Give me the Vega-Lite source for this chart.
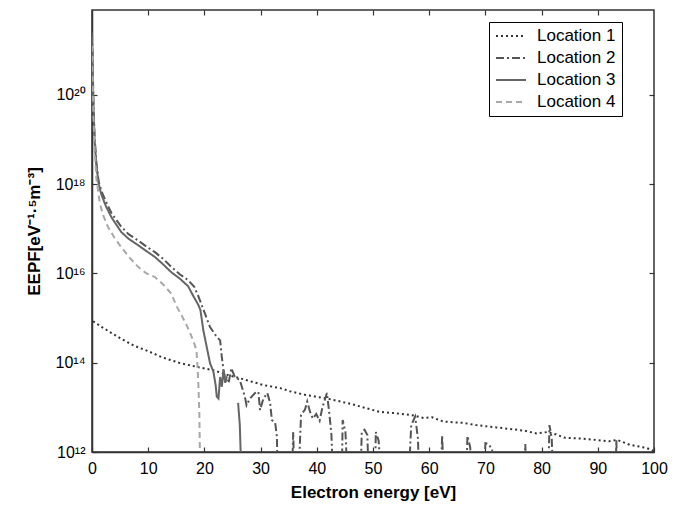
{
  "$schema": "https://vega.github.io/schema/vega-lite/v6.json",
  "width": 562,
  "height": 442,
  "autosize": {"type": "none"},
  "padding": {"left": 92, "top": 10, "right": 28, "bottom": 56},
  "background": "white",
  "data": {"values": [
    {"loc":"Location 1","E":0.2,"EEPF":8.5e14},
    {"loc":"Location 1","E":2,"EEPF":6.0e14},
    {"loc":"Location 1","E":5,"EEPF":3.55e14},
    {"loc":"Location 1","E":7.5,"EEPF":2.4e14},
    {"loc":"Location 1","E":10,"EEPF":1.82e14},
    {"loc":"Location 1","E":12.5,"EEPF":1.32e14},
    {"loc":"Location 1","E":15.7,"EEPF":9.8e13},
    {"loc":"Location 1","E":19,"EEPF":7.9e13},
    {"loc":"Location 1","E":21.6,"EEPF":6.8e13},
    {"loc":"Location 1","E":24,"EEPF":5.4e13},
    {"loc":"Location 1","E":26.3,"EEPF":4.5e13},
    {"loc":"Location 1","E":30.5,"EEPF":3.16e13},
    {"loc":"Location 1","E":33.5,"EEPF":2.7e13},
    {"loc":"Location 1","E":35.2,"EEPF":2.3e13},
    {"loc":"Location 1","E":38,"EEPF":1.9e13},
    {"loc":"Location 1","E":41.8,"EEPF":1.58e13},
    {"loc":"Location 1","E":46,"EEPF":1.2e13},
    {"loc":"Location 1","E":51.2,"EEPF":7.9e12},
    {"loc":"Location 1","E":54,"EEPF":7.4e12},
    {"loc":"Location 1","E":57.2,"EEPF":6.6e12},
    {"loc":"Location 1","E":59,"EEPF":5.75e12},
    {"loc":"Location 1","E":60.5,"EEPF":6.0e12},
    {"loc":"Location 1","E":62.5,"EEPF":4.8e12},
    {"loc":"Location 1","E":66,"EEPF":4.5e12},
    {"loc":"Location 1","E":68.4,"EEPF":4.0e12},
    {"loc":"Location 1","E":72,"EEPF":3.55e12},
    {"loc":"Location 1","E":77,"EEPF":3.0e12},
    {"loc":"Location 1","E":79.1,"EEPF":2.6e12},
    {"loc":"Location 1","E":81,"EEPF":2.8e12},
    {"loc":"Location 1","E":82.5,"EEPF":2.5e12},
    {"loc":"Location 1","E":84,"EEPF":2.1e12},
    {"loc":"Location 1","E":87,"EEPF":2.0e12},
    {"loc":"Location 1","E":89.8,"EEPF":1.86e12},
    {"loc":"Location 1","E":92,"EEPF":1.74e12},
    {"loc":"Location 1","E":93.5,"EEPF":1.86e12},
    {"loc":"Location 1","E":95.7,"EEPF":1.45e12},
    {"loc":"Location 1","E":98.7,"EEPF":1.23e12},
    {"loc":"Location 1","E":100,"EEPF":1.05e12},

    {"loc":"Location 2","E":0,"EEPF":2.5e21},
    {"loc":"Location 2","E":0.1,"EEPF":7.9e20},
    {"loc":"Location 2","E":0.25,"EEPF":7.9e19},
    {"loc":"Location 2","E":0.45,"EEPF":1.26e19},
    {"loc":"Location 2","E":0.8,"EEPF":2.8e18},
    {"loc":"Location 2","E":1.2,"EEPF":1.12e18},
    {"loc":"Location 2","E":1.66,"EEPF":7.1e17},
    {"loc":"Location 2","E":2.5,"EEPF":4.0e17},
    {"loc":"Location 2","E":3.5,"EEPF":2.2e17},
    {"loc":"Location 2","E":5.2,"EEPF":1.12e17},
    {"loc":"Location 2","E":6.5,"EEPF":7.6e16},
    {"loc":"Location 2","E":8.2,"EEPF":5.5e16},
    {"loc":"Location 2","E":9.7,"EEPF":4.0e16},
    {"loc":"Location 2","E":11.2,"EEPF":3.0e16},
    {"loc":"Location 2","E":12.7,"EEPF":2.1e16},
    {"loc":"Location 2","E":14.1,"EEPF":1.41e16},
    {"loc":"Location 2","E":15.66,"EEPF":9.5e15},
    {"loc":"Location 2","E":17.1,"EEPF":7.1e15},
    {"loc":"Location 2","E":18.2,"EEPF":5.0e15},
    {"loc":"Location 2","E":18.9,"EEPF":3.16e15},
    {"loc":"Location 2","E":19.8,"EEPF":1.58e15},
    {"loc":"Location 2","E":21.0,"EEPF":6.3e14},
    {"loc":"Location 2","E":22.2,"EEPF":3.8e14},
    {"loc":"Location 2","E":22.8,"EEPF":3.16e14},
    {"loc":"Location 2","E":23.1,"EEPF":1.35e14},
    {"loc":"Location 2","E":23.4,"EEPF":6.8e13},
    {"loc":"Location 2","E":23.7,"EEPF":4.5e13},
    {"loc":"Location 2","E":24.3,"EEPF":3.5e13},
    {"loc":"Location 2","E":24.8,"EEPF":7.6e13},
    {"loc":"Location 2","E":25.4,"EEPF":4.8e13},
    {"loc":"Location 2","E":26.3,"EEPF":4.1e13},
    {"loc":"Location 2","E":27.2,"EEPF":1.74e13},
    {"loc":"Location 2","E":27.5,"EEPF":1.12e13},
    {"loc":"Location 2","E":28.1,"EEPF":1.58e13},
    {"loc":"Location 2","E":29.0,"EEPF":2.1e13},
    {"loc":"Location 2","E":29.6,"EEPF":2.24e13},
    {"loc":"Location 2","E":29.9,"EEPF":8.7e12},
    {"loc":"Location 2","E":30.5,"EEPF":1.58e13},
    {"loc":"Location 2","E":31.2,"EEPF":2.1e13},
    {"loc":"Location 2","E":31.7,"EEPF":1.26e13},
    {"loc":"Location 2","E":32.0,"EEPF":5.2e12},
    {"loc":"Location 2","E":32.6,"EEPF":4.5e12},
    {"loc":"Location 2","E":32.9,"EEPF":2.2e12},
    {"loc":"Location 2","E":33.1,"EEPF":1e11},
    {"loc":"Location 2","E":35.5,"EEPF":1e11},
    {"loc":"Location 2","E":35.8,"EEPF":2.8e12},
    {"loc":"Location 2","E":36.1,"EEPF":1e11},
    {"loc":"Location 2","E":36.6,"EEPF":1e11},
    {"loc":"Location 2","E":37.2,"EEPF":6.8e12},
    {"loc":"Location 2","E":37.9,"EEPF":8.9e12},
    {"loc":"Location 2","E":38.3,"EEPF":1.35e13},
    {"loc":"Location 2","E":38.8,"EEPF":7.9e12},
    {"loc":"Location 2","E":39.3,"EEPF":5.6e12},
    {"loc":"Location 2","E":39.9,"EEPF":7.1e12},
    {"loc":"Location 2","E":40.5,"EEPF":5.0e12},
    {"loc":"Location 2","E":41.0,"EEPF":1.0e13},
    {"loc":"Location 2","E":41.8,"EEPF":2.1e13},
    {"loc":"Location 2","E":42.2,"EEPF":7.9e12},
    {"loc":"Location 2","E":42.6,"EEPF":2.5e12},
    {"loc":"Location 2","E":43.0,"EEPF":1e11},
    {"loc":"Location 2","E":44.4,"EEPF":1e11},
    {"loc":"Location 2","E":44.6,"EEPF":5.2e12},
    {"loc":"Location 2","E":45.1,"EEPF":2.8e12},
    {"loc":"Location 2","E":45.6,"EEPF":1e11},
    {"loc":"Location 2","E":47.7,"EEPF":1e11},
    {"loc":"Location 2","E":48.0,"EEPF":2.8e12},
    {"loc":"Location 2","E":48.5,"EEPF":3.16e12},
    {"loc":"Location 2","E":49.0,"EEPF":2.4e12},
    {"loc":"Location 2","E":49.3,"EEPF":1e11},
    {"loc":"Location 2","E":50.3,"EEPF":1e11},
    {"loc":"Location 2","E":50.5,"EEPF":2.8e12},
    {"loc":"Location 2","E":51.0,"EEPF":1.8e12},
    {"loc":"Location 2","E":51.7,"EEPF":1e11},
    {"loc":"Location 2","E":56.2,"EEPF":1e11},
    {"loc":"Location 2","E":56.8,"EEPF":4.0e12},
    {"loc":"Location 2","E":57.5,"EEPF":6.2e12},
    {"loc":"Location 2","E":58.0,"EEPF":2.0e12},
    {"loc":"Location 2","E":58.3,"EEPF":1e11},
    {"loc":"Location 2","E":62.0,"EEPF":1e11},
    {"loc":"Location 2","E":62.3,"EEPF":2.4e12},
    {"loc":"Location 2","E":62.7,"EEPF":1e11},
    {"loc":"Location 2","E":66.5,"EEPF":1e11},
    {"loc":"Location 2","E":66.8,"EEPF":2.3e12},
    {"loc":"Location 2","E":67.3,"EEPF":1.26e12},
    {"loc":"Location 2","E":67.8,"EEPF":1e11},
    {"loc":"Location 2","E":69.6,"EEPF":1e11},
    {"loc":"Location 2","E":70.0,"EEPF":1.58e12},
    {"loc":"Location 2","E":70.6,"EEPF":1.5e12},
    {"loc":"Location 2","E":71.2,"EEPF":1.12e12},
    {"loc":"Location 2","E":71.6,"EEPF":1e11},
    {"loc":"Location 2","E":76.9,"EEPF":1e11},
    {"loc":"Location 2","E":77.1,"EEPF":1.5e12},
    {"loc":"Location 2","E":77.4,"EEPF":1e11},
    {"loc":"Location 2","E":81.1,"EEPF":1e11},
    {"loc":"Location 2","E":81.4,"EEPF":4.0e12},
    {"loc":"Location 2","E":81.8,"EEPF":2.0e12},
    {"loc":"Location 2","E":82.2,"EEPF":1e11},
    {"loc":"Location 2","E":93.1,"EEPF":1e11},
    {"loc":"Location 2","E":93.3,"EEPF":1.86e12},
    {"loc":"Location 2","E":93.6,"EEPF":1e11},
    {"loc":"Location 2","E":100,"EEPF":1e11},

    {"loc":"Location 3","E":0,"EEPF":2.0e21},
    {"loc":"Location 3","E":0.1,"EEPF":5.0e20},
    {"loc":"Location 3","E":0.25,"EEPF":6.3e19},
    {"loc":"Location 3","E":0.45,"EEPF":1.0e19},
    {"loc":"Location 3","E":0.8,"EEPF":2.5e18},
    {"loc":"Location 3","E":1.2,"EEPF":1.0e18},
    {"loc":"Location 3","E":1.66,"EEPF":5.9e17},
    {"loc":"Location 3","E":2.5,"EEPF":3.16e17},
    {"loc":"Location 3","E":3.5,"EEPF":1.78e17},
    {"loc":"Location 3","E":5.2,"EEPF":8.5e16},
    {"loc":"Location 3","E":6.5,"EEPF":6.0e16},
    {"loc":"Location 3","E":8.2,"EEPF":4.3e16},
    {"loc":"Location 3","E":9.7,"EEPF":3.16e16},
    {"loc":"Location 3","E":11.2,"EEPF":2.34e16},
    {"loc":"Location 3","E":12.7,"EEPF":1.58e16},
    {"loc":"Location 3","E":14.1,"EEPF":1.07e16},
    {"loc":"Location 3","E":15.66,"EEPF":7.6e15},
    {"loc":"Location 3","E":17.1,"EEPF":5.2e15},
    {"loc":"Location 3","E":18.0,"EEPF":3.16e15},
    {"loc":"Location 3","E":18.9,"EEPF":2.0e15},
    {"loc":"Location 3","E":19.3,"EEPF":1.51e15},
    {"loc":"Location 3","E":19.8,"EEPF":5.4e14},
    {"loc":"Location 3","E":20.4,"EEPF":2.3e14},
    {"loc":"Location 3","E":21.0,"EEPF":9.8e13},
    {"loc":"Location 3","E":21.6,"EEPF":6.3e13},
    {"loc":"Location 3","E":22.0,"EEPF":3.16e13},
    {"loc":"Location 3","E":22.2,"EEPF":1.74e13},
    {"loc":"Location 3","E":22.5,"EEPF":1.58e13},
    {"loc":"Location 3","E":22.8,"EEPF":4.8e13},
    {"loc":"Location 3","E":23.1,"EEPF":2.9e13},
    {"loc":"Location 3","E":23.4,"EEPF":6.8e13},
    {"loc":"Location 3","E":23.7,"EEPF":3.55e13},
    {"loc":"Location 3","E":24.0,"EEPF":5.0e13},
    {"loc":"Location 3","E":24.3,"EEPF":null},
    {"loc":"Location 3","E":26.0,"EEPF":1.26e13},
    {"loc":"Location 3","E":26.3,"EEPF":4.0e12},
    {"loc":"Location 3","E":26.7,"EEPF":1e11},

    {"loc":"Location 4","E":0,"EEPF":1.26e21},
    {"loc":"Location 4","E":0.1,"EEPF":3.16e20},
    {"loc":"Location 4","E":0.25,"EEPF":3.16e19},
    {"loc":"Location 4","E":0.45,"EEPF":6.3e18},
    {"loc":"Location 4","E":0.8,"EEPF":1.26e18},
    {"loc":"Location 4","E":1.4,"EEPF":3.7e17},
    {"loc":"Location 4","E":2.0,"EEPF":2.0e17},
    {"loc":"Location 4","E":2.85,"EEPF":1.1e17},
    {"loc":"Location 4","E":4.0,"EEPF":6.3e16},
    {"loc":"Location 4","E":5.2,"EEPF":3.9e16},
    {"loc":"Location 4","E":6.5,"EEPF":2.4e16},
    {"loc":"Location 4","E":8.2,"EEPF":1.41e16},
    {"loc":"Location 4","E":9.7,"EEPF":1.0e16},
    {"loc":"Location 4","E":11.2,"EEPF":8.3e15},
    {"loc":"Location 4","E":12.7,"EEPF":5.6e15},
    {"loc":"Location 4","E":14.1,"EEPF":3.55e15},
    {"loc":"Location 4","E":15.0,"EEPF":1.9e15},
    {"loc":"Location 4","E":15.95,"EEPF":1.15e15},
    {"loc":"Location 4","E":17.0,"EEPF":6.3e14},
    {"loc":"Location 4","E":18.0,"EEPF":3.16e14},
    {"loc":"Location 4","E":18.6,"EEPF":1.9e14},
    {"loc":"Location 4","E":18.9,"EEPF":4.1e13},
    {"loc":"Location 4","E":19.1,"EEPF":7.4e12},
    {"loc":"Location 4","E":19.3,"EEPF":1e11}
  ]},
  "config": {
    "view": {"stroke": "#333333", "strokeWidth": 1.5},
    "axis": {
      "grid": false,
      "domainColor": "#333333",
      "domainWidth": 1.5,
      "tickColor": "#333333",
      "tickWidth": 1.2,
      "tickSize": -5,
      "labelFont": "Liberation Sans",
      "labelFontSize": 16,
      "labelColor": "#000000",
      "titleFont": "Liberation Sans",
      "titleFontSize": 17,
      "titleFontWeight": "bold",
      "titleColor": "#000000"
    },
    "legend": {
      "labelFont": "Liberation Sans",
      "labelFontSize": 17,
      "labelColor": "#000000"
    }
  },
  "layer": [
    {
      "mark": {"type": "line", "clip": true, "strokeWidth": 2, "invalid": "break-paths-filter-domains"},
      "encoding": {
        "x": {
          "field": "E", "type": "quantitative",
          "scale": {"domain": [0, 100], "nice": false},
          "axis": {"orient": "bottom", "values": [0,10,20,30,40,50,60,70,80,90,100], "title": "Electron energy [eV]", "labelPadding": 13, "titlePadding": 8, "labelFlush": false}
        },
        "y": {
          "field": "EEPF", "type": "quantitative",
          "scale": {"type": "log", "domain": [1e12, 8e21], "nice": false},
          "axis": {"orient": "left", "values": [1e12, 1e14, 1e16, 1e18, 1e20],
            "labelExpr": "datum.value < 1e13 ? '10¹²' : datum.value < 1e15 ? '10¹⁴' : datum.value < 1e17 ? '10¹⁶' : datum.value < 1e19 ? '10¹⁸' : '10²⁰'",
            "title": "EEPF[eV⁻¹·⁵m⁻³]", "labelPadding": 12, "titlePadding": 12, "labelFlush": false}
        },
        "color": {
          "field": "loc", "type": "nominal",
          "scale": {"domain": ["Location 1", "Location 2", "Location 3", "Location 4"], "range": ["#333333", "#555555", "#666666", "#a8a8a8"]},
          "legend": {
            "title": null, "orient": "none", "legendX": 397, "legendY": 12,
            "symbolType": "stroke", "symbolSize": 900, "symbolStrokeWidth": 2,
            "clipHeight": 16, "rowPadding": 5, "labelOffset": 10,
            "labelExpr": "datum.label + '\u00a0\u00a0'",
            "strokeColor": "#000000", "fillColor": "#ffffff", "padding": 6
          }
        },
        "strokeDash": {
          "field": "loc", "type": "nominal",
          "scale": {"domain": ["Location 1", "Location 2", "Location 3", "Location 4"], "range": [[2, 3], [8, 3, 2, 3], [1, 0], [6, 4]]},
          "legend": null
        }
      }
    },
    {
      "transform": [{"filter": "datum.loc == 'Location 1'"}],
      "mark": {"type": "line", "opacity": 0},
      "encoding": {
        "x": {"field": "E", "type": "quantitative", "axis": {"orient": "top", "values": [10,20,30,40,50,60,70,80,90], "labels": false, "title": null, "domain": false}},
        "y": {"field": "EEPF", "type": "quantitative", "scale": {"type": "log"}, "axis": {"orient": "right", "values": [1e12, 1e14, 1e16, 1e18, 1e20], "labels": false, "title": null, "domain": false}}
      }
    }
  ],
  "resolve": {"axis": {"x": "independent", "y": "independent"}}
}
